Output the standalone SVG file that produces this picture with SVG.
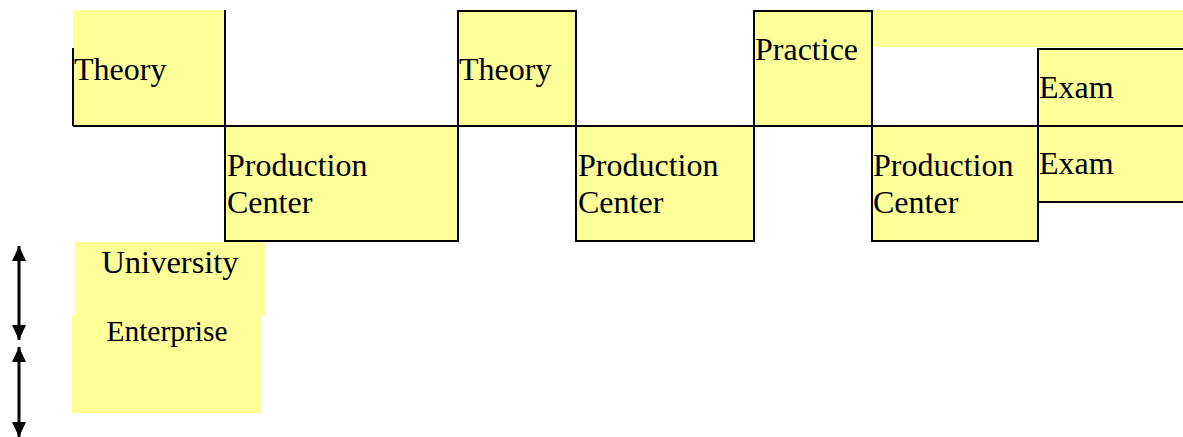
<svg xmlns="http://www.w3.org/2000/svg" width="1183" height="437" viewBox="0 0 1183 437">
<defs>
<style>
.y{fill:#FFFF99;}
.b{fill:#FFFF99;stroke:#000;stroke-width:2;}
.ln{stroke:#000;stroke-width:2;fill:none;}
.t{font-family:"Liberation Serif","Times New Roman",serif;font-size:32px;fill:#000;}
.c{text-anchor:middle;}
.ar{stroke:#000;stroke-width:3;}
</style>
<marker id="ah" viewBox="0 0 15 14" refX="15" refY="7" markerWidth="15" markerHeight="14" orient="auto-start-reverse" markerUnits="userSpaceOnUse">
<path d="M0,0 L15,7 L0,14 Z" fill="#000"/>
</marker>
</defs>
<rect width="1183" height="437" fill="#fff"/>
<g id="theory1">
<rect class="y" x="73" y="10" width="152" height="116"/>
<path class="ln" d="M73,48 V126"/>
<text class="t" x="74" y="80">Theory</text>
</g>
<g id="production1">
<rect class="b" x="225" y="126" width="233" height="115"/>
<path class="ln" d="M225,10 V126"/>
<text class="t" x="227" y="176">Production</text>
<text class="t" x="227" y="213">Center</text>
</g>
<g id="theory2">
<rect class="b" x="458" y="11" width="118" height="115"/>
<text class="t" x="459" y="80">Theory</text>
</g>
<g id="production2">
<rect class="b" x="576" y="126" width="178" height="115"/>
<text class="t" x="578" y="176">Production</text>
<text class="t" x="578" y="213">Center</text>
</g>
<g id="practice">
<rect class="b" x="754" y="11" width="118" height="115"/>
<text class="t" x="755" y="60">Practice</text>
</g>
<g id="strip">
<rect class="y" x="873" y="10" width="310" height="37"/>
</g>
<g id="exam1">
<rect class="b" x="1038" y="49" width="150" height="77"/>
<text class="t" x="1039" y="98">Exam</text>
</g>
<g id="production3">
<rect class="b" x="872" y="126" width="166" height="115"/>
<text class="t" x="873" y="176">Production</text>
<text class="t" x="873" y="213">Center</text>
</g>
<g id="exam2">
<rect class="b" x="1038" y="126" width="150" height="76"/>
<text class="t" x="1039" y="174">Exam</text>
</g>
<g id="baseline">
<path class="ln" d="M73,126 H1183"/>
</g>
<g id="university">
<rect class="y" x="75" y="242" width="191" height="74"/>
<text class="t c" x="170" y="273" style="font-size:32.5px">University</text>
</g>
<g id="enterprise">
<rect class="y" x="72" y="315" width="190" height="98"/>
<text class="t c" x="167" y="341" style="font-size:29.5px">Enterprise</text>
</g>
<g id="connectors">
<line class="ar" x1="19" y1="246" x2="19" y2="340" marker-start="url(#ah)" marker-end="url(#ah)"/>
<line class="ar" x1="19" y1="347" x2="19" y2="437" marker-start="url(#ah)" marker-end="url(#ah)"/>
</g>
</svg>
